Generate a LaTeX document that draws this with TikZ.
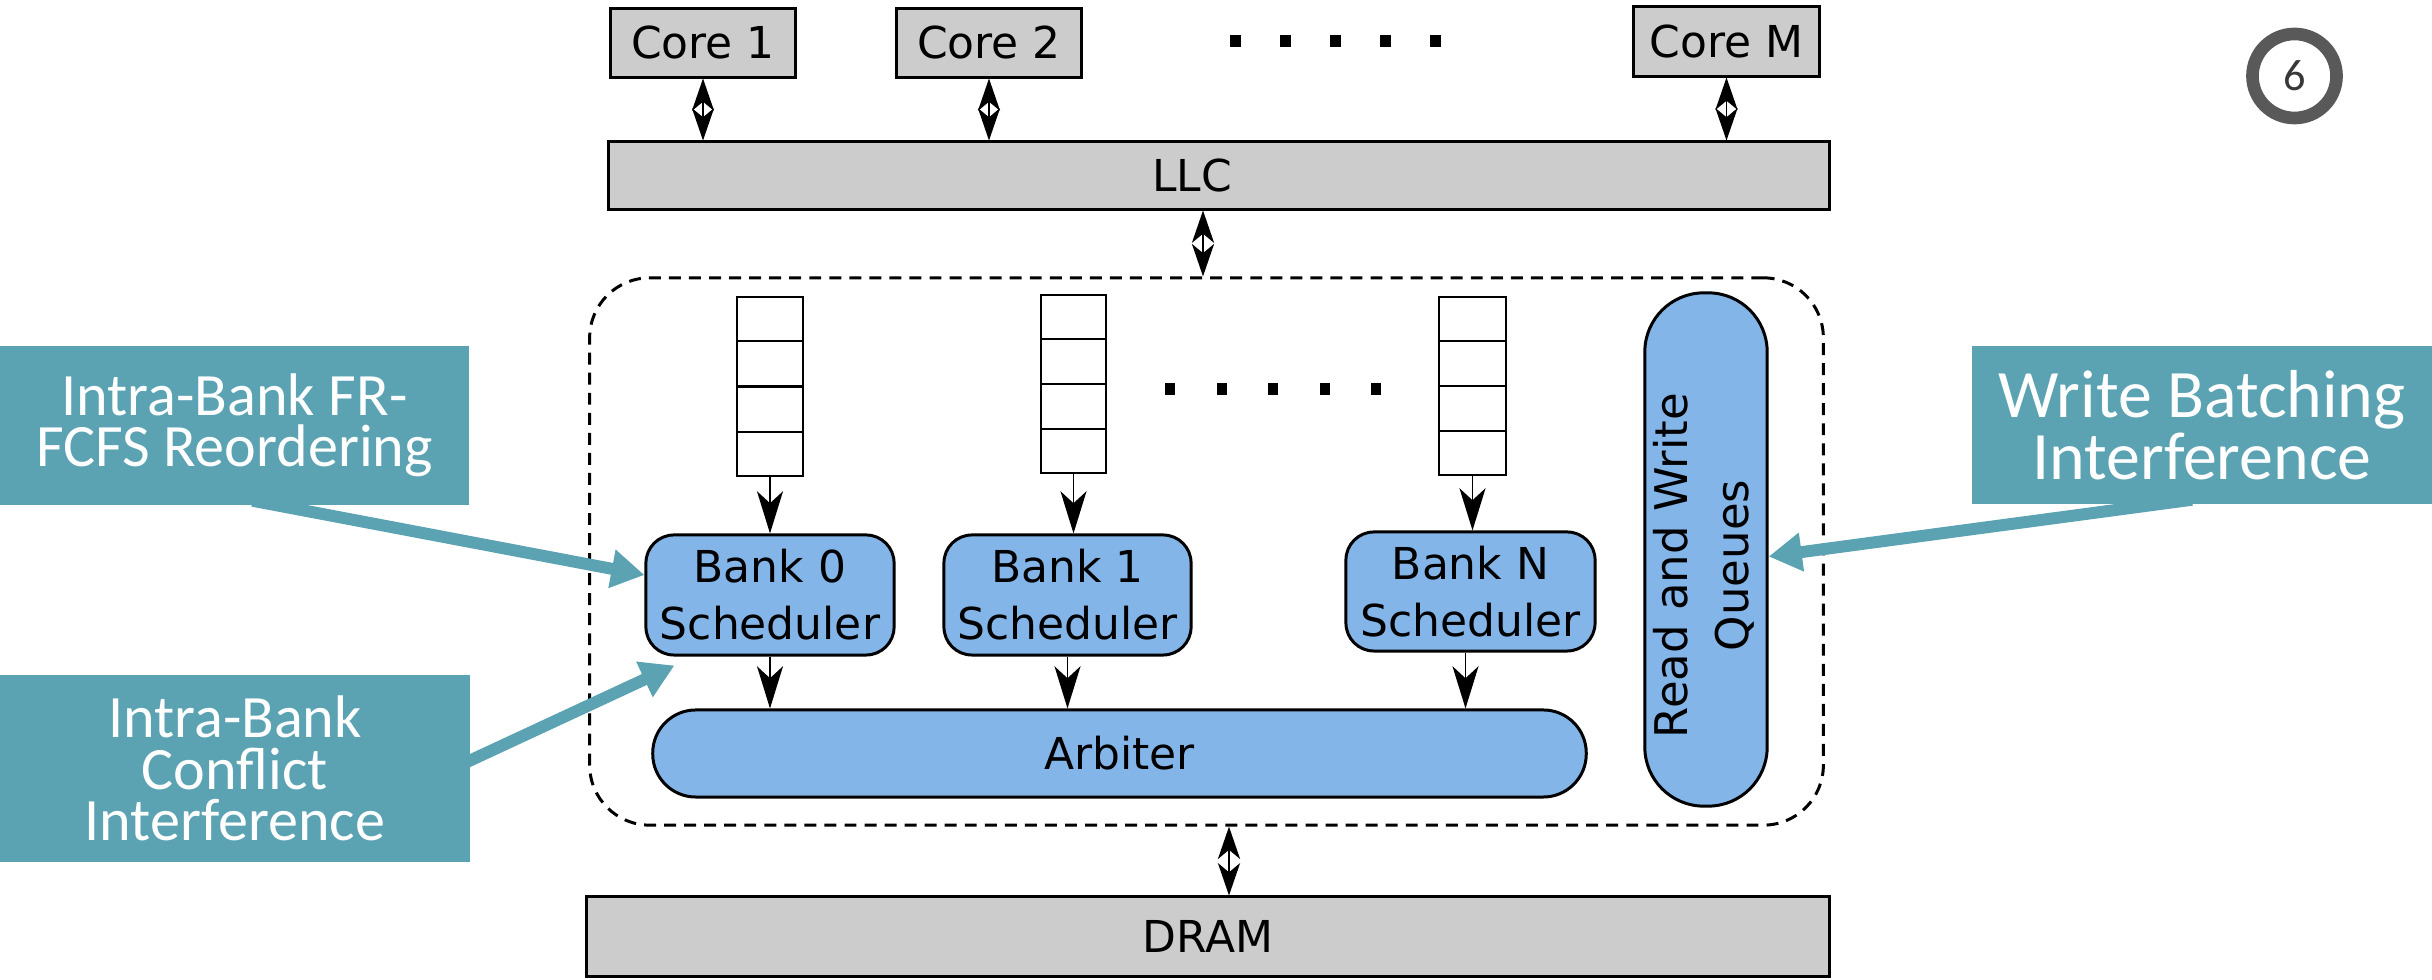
\documentclass[tikz,border=0pt]{standalone}
\usepackage{fontspec}
\newfontfamily\dvfont{DejaVu Sans}
\newfontfamily\cbfont{Carlito}
\usetikzlibrary{arrows.meta,calc}
\definecolor{tealc}{HTML}{5BA3B3}
\definecolor{bluec}{HTML}{84B5E8}
\definecolor{grayc}{HTML}{CCCCCC}
\definecolor{ringc}{HTML}{595959}
\begin{document}
\begin{tikzpicture}[x=0.01cm,y=-0.01cm,
  lbl/.style={font=\dvfont\fontsize{12.5}{16.2}\selectfont},
  graybox/.style={draw, line width=0.85pt, fill=grayc, inner sep=0pt, lbl},
  bluebox/.style={draw, line width=0.85pt, fill=bluec, inner sep=0pt, align=center, lbl},
  queuebox/.style={draw, line width=0.6pt, fill=white, inner sep=0pt, minimum width=0.66cm, minimum height=1.79cm},
  callout/.style={fill=tealc, text=white, inner sep=0pt, align=center},
  dbl/.style={line width=0.55pt, {Stealth[length=9.2pt,width=6.3pt,inset=2.6pt]}-{Stealth[length=9.2pt,width=6.3pt,inset=2.6pt]}},
  flow/.style={line width=0.55pt, -{Stealth[length=12pt,width=7.4pt,inset=3.4pt]}},
  hint/.style={draw=tealc, line width=3.4pt, -{Triangle[length=9.4pt,width=10.5pt]}},
  dashbox/.style={draw, line width=0.85pt, dash pattern=on 3.4pt off 2.3pt, rounded corners=0.6cm, inner sep=0pt}
]
\fill[white] (0,0) rectangle (2432,980);
\useasboundingbox (0,0) rectangle (2432,980);

% dashed memory controller
\node[dashbox, minimum width=12.33cm, minimum height=5.47cm] (ctrl) at (1206.5,551.5) {};

% cores and LLC
\node[graybox, minimum width=1.84cm, minimum height=0.68cm] (c1) at (703,43) {Core 1};
\node[graybox, minimum width=1.84cm, minimum height=0.68cm] (c2) at (989,43) {Core 2};
\node[graybox, minimum width=1.85cm, minimum height=0.69cm] (cm) at (1726.5,41.5) {Core M};
\node[graybox, minimum width=12.2cm, minimum height=0.67cm] (llc) at (1219,175.5) {\hspace*{-0.54cm}LLC};
\node[graybox, minimum width=12.42cm, minimum height=0.79cm] (dram) at (1208,936.5) {DRAM};

% dots
\foreach \i in {0,...,4} \fill ({1229.5+50*\i},35) rectangle +(11,12);
\foreach \i in {0,...,4} \fill ({1165+51.5*\i},383) rectangle +(10,12);

% queues
\node[queuebox] (q0) at (770,386.5) {};
\node[queuebox, minimum width=0.65cm, minimum height=1.78cm] (q1) at (1073.5,384) {};
\node[queuebox, minimum width=0.67cm, minimum height=1.78cm] (qn) at (1472.5,386) {};
\foreach \q in {q0,q1,qn}
  \foreach \k in {1,2,3}
    \draw[line width=0.6pt] ($(\q.north west)!\k/4!(\q.south west)$) -- ($(\q.north east)!\k/4!(\q.south east)$);

% schedulers
\node[bluebox, rounded corners=0.28cm, minimum width=2.48cm, minimum height=1.2cm] (b0) at (770,595) {Bank 0\\Scheduler};
\node[bluebox, rounded corners=0.28cm, minimum width=2.47cm, minimum height=1.2cm] (b1) at (1067.5,595) {Bank 1\\Scheduler};
\node[bluebox, rounded corners=0.28cm, minimum width=2.49cm, minimum height=1.19cm] (bn) at (1470.5,591.5) {Bank N\\Scheduler};
\node[bluebox, rounded corners=0.43cm, minimum width=9.33cm, minimum height=0.87cm] (arb) at (1119.5,753.5) {Arbiter};
\node[bluebox, rounded corners=0.59cm, minimum width=1.2cm, minimum height=5.13cm] (rwq) at (1706,549.5)
  {\rotatebox{90}{\fontsize{12.8}{17.4}\selectfont\begin{tabular}{@{}c@{}}Read and Write\\Queues\end{tabular}\hspace*{0.32cm}}};

% slide number
\node[circle, draw=ringc, line width=3.6pt, minimum size=0.84cm, inner sep=0pt,
      font=\cbfont\fontsize{12.6}{14}\selectfont, text=black!78] (num) at (2294.5,76) {6};

% callouts
\node[callout, minimum width=4.69cm, minimum height=1.59cm, font=\cbfont\fontsize{17.1}{14.6}\selectfont] (cl1) at (234.5,425.5) {Intra-Bank FR-\\FCFS Reordering};
\node[callout, minimum width=4.70cm, minimum height=1.87cm, font=\cbfont\fontsize{17.1}{14.6}\selectfont] (cl2) at (235,768.5) {Intra-Bank\\Conflict\\Interference};
\node[callout, minimum width=4.60cm, minimum height=1.58cm, font=\cbfont\fontsize{19.3}{16.5}\selectfont] (cl3) at (2202,425) {Write Batching\\Interference};

% connectors
\draw[dbl] (c1.south) -- (c1.south |- llc.north);
\draw[dbl] (c2.south) -- (c2.south |- llc.north);
\draw[dbl] (cm.south) -- (cm.south |- llc.north);
\coordinate (lx) at (1203,0);
\coordinate (dx) at (1229,0);
\draw[dbl] (llc.south -| lx) -- (ctrl.north -| lx);
\draw[dbl] (ctrl.south -| dx) -- (dram.north -| dx);

\draw[flow] (q0.south) -- (q0.south |- b0.north);
\draw[flow] (q1.south) -- (q1.south |- b1.north);
\draw[flow] (qn.south) -- (qn.south |- bn.north);
\draw[flow] (b0.south) -- (b0.south |- arb.north);
\draw[flow] (b1.south) -- (b1.south |- arb.north);
\draw[flow] ([xshift=-0.05cm]bn.south) -- ([xshift=-0.05cm]bn.south |- arb.north);

\draw[hint] ($(cl1.south)+(18,-5)$) -- ($(b0.west)+(0,-20)$);
\draw[hint] ($(cl2.east)+(-5,-6)$) -- ($(b0.south west)+(30,9)$);
\draw[hint] ($(cl3.south)+(-10,-5)$) -- ($(rwq.east)+(0,7)$);
\end{tikzpicture}
\end{document}
